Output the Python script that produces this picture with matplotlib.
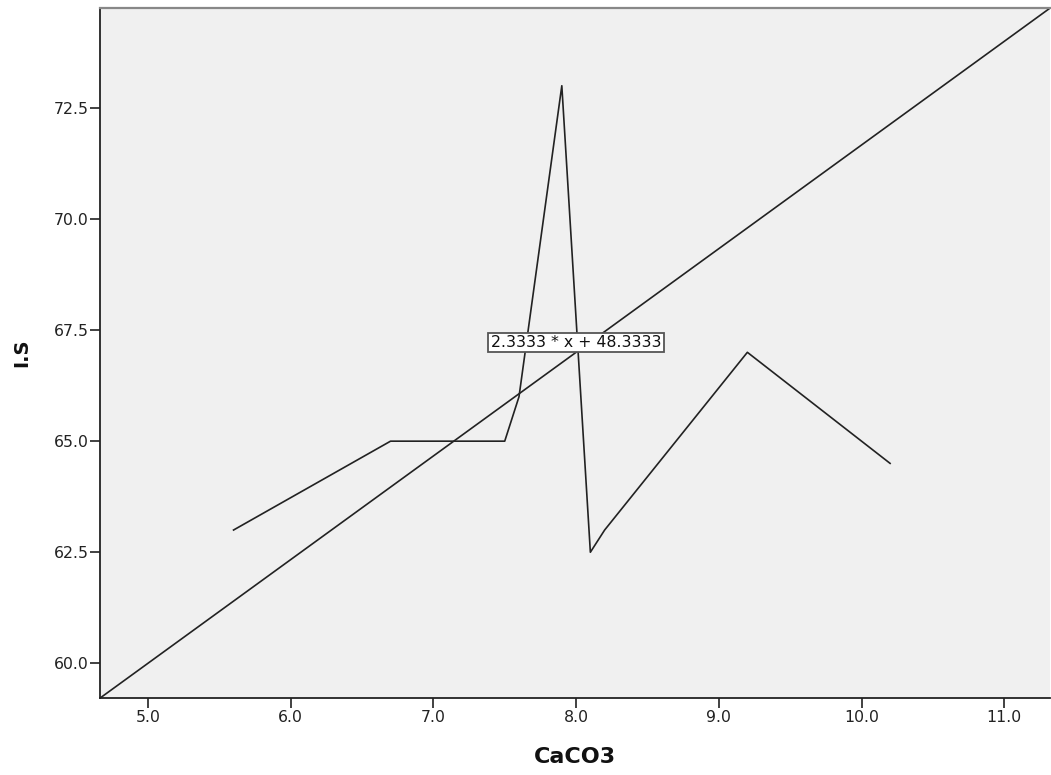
import matplotlib
matplotlib.use('Agg')
import matplotlib.pyplot as plt
import numpy as np

plt.rcParams['font.family'] = ['DejaVu Sans']

# observations
caco3 = [5.6, 6.7, 7.5, 7.6, 7.9, 8.1, 8.2, 9.2, 10.2]
i_s = [63.0, 65.0, 65.0, 66.0, 73.0, 62.5, 63.0, 67.0, 64.5]

# fitted line
slope = 2.3333
intercept = 48.3333
fit_label = '2.3333 * x + 48.3333'

x_ticks = [5.0, 6.0, 7.0, 8.0, 9.0, 10.0, 11.0]
y_ticks = [60.0, 62.5, 65.0, 67.5, 70.0, 72.5]

fig = plt.figure(figsize=(10.51, 7.75), dpi=100)
ax = fig.add_axes([0.0951, 0.0994, 0.9039, 0.8903])
ax.set_facecolor('#f0f0f0')

xmin, xmax = 4.664, 11.32
ax.set_xlim(xmin, xmax)
ax.set_ylim(59.22, 74.75)

xs = np.array([xmin, xmax])
ax.plot(xs, slope * xs + intercept, color='#222222', linewidth=1.2)
ax.plot(caco3, i_s, color='#222222', linewidth=1.2)

ax.text(8.0, 67.22, fit_label, ha='center', va='center', fontsize=11.3,
        color='#111111',
        bbox=dict(boxstyle='square,pad=0.15', facecolor='white',
                  edgecolor='#555555', linewidth=1.3))

ax.set_xticks(x_ticks)
ax.set_xticklabels([f'{t:.1f}' for t in x_ticks])
ax.set_yticks(y_ticks)
ax.set_yticklabels([f'{t:.1f}' for t in y_ticks])
ax.tick_params(direction='out', length=7, width=1.3, colors='#333333',
               labelsize=11.3, labelcolor='#222222')
ax.tick_params(axis='x', pad=2)
ax.tick_params(axis='y', pad=1)

for side in ['left', 'bottom']:
    ax.spines[side].set_color('#222222')
    ax.spines[side].set_linewidth(1.3)
ax.spines['top'].set_color('#888888')
ax.spines['top'].set_linewidth(1.6)
ax.spines['right'].set_visible(False)

ax.set_xlabel('CaCO3', fontsize=16, fontweight='bold', color='#111111', va='center')
ax.xaxis.set_label_coords(0.5, -0.0855)
ax.set_ylabel('I.S', fontsize=14, fontweight='bold', color='#111111', va='center')
ax.yaxis.set_label_coords(-0.0822, 0.5)

fig.savefig('out.png', dpi=100)
plt.close(fig)
